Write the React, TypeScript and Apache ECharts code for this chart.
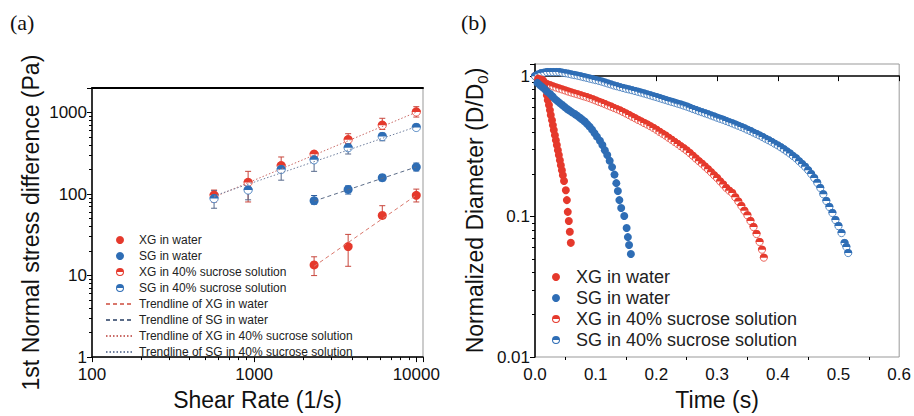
import React, { useEffect, useRef } from 'react';
import * as echarts from 'echarts';

// ---------- (a) first normal stress difference ----------
const shearRateAll = [566, 918, 1468, 2343, 3800, 6170, 10000];
const shearRateWater = [2343, 3800, 6170, 10000];
const xgWaterN1 = [13.5, 22.7, 54.7, 96.6];
const xgWaterErr = [[10, 17], [13, 32], [50, 72], [80, 115]];
const sgWaterN1 = [83, 114, 159, 214];
const sgWaterErr = [[75, 96], [100, 126], [145, 172], [192, 240]];
const xgSucroseN1 = [97, 139, 223, 308, 464, 700, 1018];
const xgSucroseErr = [[80, 112], [80, 190], [190, 285], [285, 330], [420, 550], [620, 850], [880, 1180]];
const sgSucroseN1 = [88, 112, 200, 263, 370, 508, 656];
const sgSucroseErr = [[67, 110], [85, 130], [148, 240], [190, 290], [310, 420], [450, 560], [620, 720]];
const trendXgWater = [[2343, 13], [10000, 97]];
const trendSgWater = [[2343, 82], [10000, 215]];
const trendXgSucrose = [[566, 92], [10000, 1010]];
const trendSgSucrose = [[566, 95], [10000, 670]];
const xTicksA = [100, 1000, 10000];
const yTicksA = [1, 10, 100, 1000];
const xMinorA = [200, 300, 400, 500, 600, 700, 800, 900, 2000, 3000, 4000, 5000, 6000, 7000, 8000, 9000];
const yMinorA = [2, 3, 4, 5, 6, 7, 8, 9, 20, 30, 40, 50, 60, 70, 80, 90, 200, 300, 400, 500, 600, 700, 800, 900];

// ---------- (b) normalized diameter vs time ----------
const xMinorB = [0.05, 0.15, 0.25, 0.35, 0.45, 0.55];
const yMinorB = [0.02, 0.03, 0.04, 0.05, 0.06, 0.07, 0.08, 0.09, 0.2, 0.3, 0.4, 0.5, 0.6, 0.7, 0.8, 0.9];
const xgWaterCurve = [
  [0.005, 0.96], [0.009, 0.95], [0.013, 0.937], [0.0155, 0.863], [0.018, 0.795], [0.0195, 0.732],
  [0.021, 0.675], [0.023, 0.622], [0.0246, 0.573], [0.026, 0.528], [0.028, 0.486], [0.0295, 0.448],
  [0.031, 0.413], [0.0328, 0.38], [0.0344, 0.35], [0.036, 0.323], [0.0377, 0.297], [0.0393, 0.274],
  [0.041, 0.252], [0.0426, 0.232], [0.0443, 0.214], [0.0459, 0.197], [0.0478, 0.179], [0.0508, 0.154],
  [0.0525, 0.131], [0.054, 0.108], [0.0557, 0.093], [0.0574, 0.078], [0.059, 0.065],
];
const sgWaterCurve = [
  [0.004, 0.895], [0.008, 0.863], [0.012, 0.835], [0.016, 0.808], [0.02, 0.776], [0.025, 0.745],
  [0.029, 0.715], [0.033, 0.686], [0.037, 0.664], [0.041, 0.642], [0.045, 0.622], [0.049, 0.602],
  [0.053, 0.584], [0.057, 0.568], [0.061, 0.552], [0.066, 0.536], [0.07, 0.521], [0.074, 0.506],
  [0.078, 0.49], [0.082, 0.475], [0.086, 0.455], [0.09, 0.437], [0.094, 0.416], [0.098, 0.393],
  [0.102, 0.371], [0.107, 0.347], [0.111, 0.323], [0.115, 0.297], [0.119, 0.274], [0.123, 0.25],
  [0.127, 0.225], [0.131, 0.199], [0.134, 0.173], [0.1365, 0.152], [0.139, 0.131], [0.142, 0.115],
  [0.147, 0.101], [0.151, 0.0828], [0.153, 0.0714], [0.155, 0.0627], [0.158, 0.0541],
];
const xgSucroseCurve = [
  [0, 1.0], [0.005, 0.968], [0.01, 0.932], [0.015, 0.9], [0.02, 0.877], [0.025, 0.86], [0.03, 0.845],
  [0.035, 0.829], [0.04, 0.816], [0.045, 0.803], [0.05, 0.79], [0.055, 0.776], [0.06, 0.764],
  [0.065, 0.753], [0.07, 0.742], [0.075, 0.731], [0.08, 0.719], [0.085, 0.709], [0.09, 0.697],
  [0.095, 0.684], [0.1, 0.671], [0.105, 0.657], [0.11, 0.645], [0.115, 0.632], [0.12, 0.619],
  [0.125, 0.607], [0.13, 0.594], [0.135, 0.582], [0.14, 0.57], [0.145, 0.556], [0.15, 0.542],
  [0.155, 0.528], [0.16, 0.514], [0.165, 0.501], [0.17, 0.488], [0.175, 0.476], [0.18, 0.463],
  [0.185, 0.452], [0.19, 0.44], [0.195, 0.428], [0.2, 0.415], [0.205, 0.401], [0.21, 0.389],
  [0.215, 0.377], [0.22, 0.364], [0.225, 0.352], [0.23, 0.34], [0.235, 0.329], [0.24, 0.317],
  [0.245, 0.306], [0.25, 0.295], [0.255, 0.283], [0.26, 0.271], [0.265, 0.259], [0.27, 0.248],
  [0.275, 0.238], [0.28, 0.227], [0.285, 0.217], [0.29, 0.207], [0.295, 0.197], [0.3, 0.188],
  [0.305, 0.178], [0.31, 0.169], [0.315, 0.16], [0.32, 0.153], [0.325, 0.147], [0.33, 0.137],
  [0.335, 0.128], [0.34, 0.119], [0.345, 0.11], [0.35, 0.102], [0.355, 0.0929], [0.36, 0.0842],
  [0.365, 0.0751], [0.37, 0.0659], [0.374, 0.0581], [0.377, 0.051],
];
const sgSucroseCurve = [
  [0, 1.0], [0.005, 1.025], [0.01, 1.05], [0.015, 1.059], [0.02, 1.068], [0.025, 1.068], [0.03, 1.068],
  [0.035, 1.068], [0.04, 1.068], [0.045, 1.059], [0.05, 1.05], [0.055, 1.04], [0.06, 1.028],
  [0.065, 1.018], [0.07, 1.008], [0.075, 0.997], [0.08, 0.984], [0.085, 0.972], [0.09, 0.96],
  [0.095, 0.949], [0.1, 0.937], [0.105, 0.926], [0.11, 0.914], [0.115, 0.9], [0.12, 0.886],
  [0.125, 0.873], [0.13, 0.858], [0.135, 0.847], [0.14, 0.835], [0.145, 0.824], [0.15, 0.813],
  [0.155, 0.804], [0.16, 0.794], [0.165, 0.783], [0.17, 0.773], [0.175, 0.763], [0.18, 0.752],
  [0.185, 0.741], [0.19, 0.73], [0.195, 0.719], [0.2, 0.709], [0.205, 0.698], [0.21, 0.687],
  [0.215, 0.677], [0.22, 0.666], [0.225, 0.656], [0.23, 0.647], [0.235, 0.637], [0.24, 0.628],
  [0.245, 0.617], [0.25, 0.607], [0.255, 0.596], [0.26, 0.584], [0.265, 0.574], [0.27, 0.563],
  [0.275, 0.554], [0.28, 0.544], [0.285, 0.535], [0.29, 0.525], [0.295, 0.516], [0.3, 0.506],
  [0.305, 0.497], [0.31, 0.489], [0.315, 0.479], [0.32, 0.47], [0.325, 0.461], [0.33, 0.452],
  [0.335, 0.443], [0.34, 0.434], [0.345, 0.425], [0.35, 0.415], [0.355, 0.406], [0.36, 0.396],
  [0.365, 0.387], [0.37, 0.378], [0.375, 0.368], [0.38, 0.358], [0.385, 0.349], [0.39, 0.34],
  [0.395, 0.33], [0.4, 0.321], [0.405, 0.311], [0.41, 0.301], [0.415, 0.291], [0.42, 0.281],
  [0.425, 0.27], [0.43, 0.26], [0.435, 0.248], [0.44, 0.237], [0.445, 0.226], [0.45, 0.214],
  [0.455, 0.201], [0.46, 0.188], [0.465, 0.174], [0.47, 0.16], [0.475, 0.144], [0.48, 0.129],
  [0.485, 0.117], [0.49, 0.106], [0.495, 0.0944], [0.5, 0.0855], [0.505, 0.0763], [0.51, 0.0648],
  [0.513, 0.0607], [0.516, 0.055],
];

const FONT = "'Liberation Sans', Arial, Helvetica, sans-serif";
const SERIF = "'Liberation Serif', 'DejaVu Serif', serif";
const RED = '#e5392c';
const BLUE = '#2e6db5';
const TXT = '#111';
const HALF_ICON =
  'path://M0,10A10,10 0 0,1 20,10Z M0,10A10,10 0 0,0 20,10L17.4,10A7.4,7.4 0 0,1 2.6,10Z';

const isPow10 = (v: number) => {
  const l = Math.log10(v);
  return Math.abs(l - Math.round(l)) < 1e-6;
};

function halfMarker(size: number) {
  return (_params: any, api: any) => {
    const p = api.coord([api.value(0), api.value(1)]);
    const r = size / 2;
    const color = api.visual('color');
    return {
      type: 'group',
      children: [
        { type: 'circle', shape: { cx: p[0], cy: p[1], r: r - 0.4 }, style: { fill: '#fff', stroke: color, lineWidth: 0.8 } },
        {
          type: 'sector',
          shape: { cx: p[0], cy: p[1], r0: 0, r, startAngle: Math.PI, endAngle: Math.PI * 2, clockwise: true },
          style: { fill: color },
        },
      ],
    };
  };
}

function errorBar(_params: any, api: any) {
  const x = api.value(0);
  const lo = api.coord([x, api.value(1)]);
  const hi = api.coord([x, api.value(2)]);
  const w = 3;
  const style = { stroke: api.visual('color'), lineWidth: 1 };
  return {
    type: 'group',
    children: [
      { type: 'line', shape: { x1: lo[0], y1: lo[1], x2: hi[0], y2: hi[1] }, style },
      { type: 'line', shape: { x1: lo[0] - w, y1: lo[1], x2: lo[0] + w, y2: lo[1] }, style },
      { type: 'line', shape: { x1: hi[0] - w, y1: hi[1], x2: hi[0] + w, y2: hi[1] }, style },
    ],
  };
}

const zip = (xs: number[], ys: number[]) => xs.map((x, i) => [x, ys[i]]);
const zipErr = (xs: number[], e: number[][]) => xs.map((x, i) => [x, e[i][0], e[i][1]]);

// decoration-only axis carrying minor ticks (log positions expressed as log10)
function minorAxis(gridIndex: number, min: number, max: number, values: number[], position: string) {
  return {
    type: 'value', gridIndex, min, max, position,
    axisLine: { show: false },
    axisLabel: { show: false },
    splitLine: { show: false },
    axisTick: { show: true, inside: false, length: 3, customValues: values, lineStyle: { color: '#000', width: 1 } },
  };
}

export default function App() {
  const ref = useRef<HTMLDivElement>(null);
  useEffect(() => {
    if (!ref.current) return;
    const chart = echarts.init(ref.current, undefined, { renderer: 'svg' });
    const axisLine = { show: true, lineStyle: { color: '#000', width: 1.5 } };
    const tick = { show: true, inside: false, length: 5, lineStyle: { color: '#000', width: 1 } };
    const nameStyle = { fontSize: 23, fontFamily: FONT, color: TXT };
    const labelStyle = { fontSize: 17, fontFamily: FONT, color: TXT };
    const hideDot = { opacity: 0, color: 'transparent', borderWidth: 0 };
    const option: any = {
      animation: false,
      backgroundColor: '#fff',
      textStyle: { fontFamily: FONT },
      graphic: [
        { type: 'text', left: 10, top: 11, style: { text: '(a)', fontSize: 22, fontFamily: SERIF, fill: TXT } },
        { type: 'text', left: 461, top: 11, style: { text: '(b)', fontSize: 22, fontFamily: SERIF, fill: TXT } },
      ],
      grid: [
        { left: 92, top: 88, width: 331, height: 276, show: true, borderColor: '#999', borderWidth: 1 },
        { left: 535, top: 64, width: 366, height: 293, show: true, borderColor: '#999', borderWidth: 1 },
      ],
      xAxis: [
        {
          type: 'log', gridIndex: 0, min: 100, max: 11000, logBase: 10, position: 'bottom',
          name: 'Shear Rate (1/s)', nameLocation: 'middle', nameGap: 29, nameTextStyle: nameStyle,
          axisLine, axisTick: tick,
          axisLabel: { ...labelStyle, margin: 9, formatter: (v: number) => (xTicksA.some((t) => Math.abs(t - v) < 1e-6) ? String(v) : '') },
          splitLine: { show: false },
        },
        {
          type: 'log', gridIndex: 0, min: 100, max: 11000, position: 'top',
          axisLine: { show: true, lineStyle: { color: '#000', width: 2 } },
          axisTick: { show: false }, axisLabel: { show: false }, splitLine: { show: false },
        },
        {
          type: 'value', gridIndex: 1, min: 0, max: 0.6, interval: 0.1, position: 'bottom',
          name: 'Time (s)', nameLocation: 'middle', nameGap: 31, nameTextStyle: nameStyle,
          axisLine, axisTick: tick,
          axisLabel: { ...labelStyle, margin: 9, formatter: (v: number) => v.toFixed(1) },
          splitLine: { show: false },
        },
        minorAxis(0, 2, Math.log10(11000), xMinorA.map((v) => Math.log10(v)), 'bottom'),
        minorAxis(1, 0, 0.6, xMinorB, 'bottom'),
      ],
      yAxis: [
        {
          type: 'log', gridIndex: 0, min: 1, max: 2000, logBase: 10, position: 'left',
          name: '1st Normal stress difference (Pa)', nameLocation: 'middle', nameGap: 50, nameTextStyle: nameStyle,
          axisLine, axisTick: tick,
          axisLabel: { ...labelStyle, margin: 5, formatter: (v: number) => (yTicksA.some((t) => Math.abs(t - v) < 1e-6) ? String(v) : '') },
          splitLine: { show: false },
        },
        {
          type: 'log', gridIndex: 1, min: 0.01, max: 1.22, logBase: 10, position: 'left',
          name: '{a|Normalized Diameter (D/D}{s|0}{a|)}', nameLocation: 'middle', nameGap: 45,
          nameTextStyle: {
            rich: {
              a: { fontSize: 23, fontFamily: FONT, color: TXT, lineHeight: 30 },
              s: { fontSize: 15, fontFamily: FONT, color: TXT, lineHeight: 14, verticalAlign: 'bottom' },
            },
          },
          axisLine, axisTick: tick,
          axisLabel: { ...labelStyle, margin: 5, formatter: (v: number) => (isPow10(v) ? String(+v.toPrecision(3)) : '') },
          splitLine: { show: false },
        },
        minorAxis(0, 0, Math.log10(2000), yMinorA.map((v) => Math.log10(v)), 'left'),
        minorAxis(1, -2, Math.log10(1.22), yMinorB.map((v) => Math.log10(v)), 'left'),
      ],
      legend: [
        {
          orient: 'vertical', left: 100, top: 229, itemWidth: 28, itemHeight: 8, itemGap: 4,
          selectedMode: false,
          textStyle: { fontSize: 12, fontFamily: FONT, color: '#222' },
          data: [
            { name: 'XG in water', icon: 'circle' },
            { name: 'SG in water', icon: 'circle' },
            { name: 'XG in 40% sucrose solution', icon: HALF_ICON },
            { name: 'SG in 40% sucrose solution', icon: HALF_ICON },
            { name: 'Trendline of XG in water', itemStyle: hideDot },
            { name: 'Trendline of SG in water', itemStyle: hideDot },
            { name: 'Trendline of XG in 40% sucrose solution', itemStyle: hideDot },
            { name: 'Trendline of SG in 40% sucrose solution', itemStyle: hideDot },
          ],
        },
        {
          orient: 'vertical', left: 547, top: 263, itemWidth: 30, itemHeight: 8, itemGap: 3,
          selectedMode: false,
          textStyle: { fontSize: 18, fontFamily: FONT, color: '#222' },
          data: [
            { name: 'XG in water', icon: 'circle' },
            { name: 'SG in water', icon: 'circle' },
            { name: 'XG in 40% sucrose solution', icon: HALF_ICON },
            { name: 'SG in 40% sucrose solution', icon: HALF_ICON },
          ],
        },
      ],
      series: [
        // trendlines (a)
        { name: 'Trendline of XG in water', type: 'line', xAxisIndex: 0, yAxisIndex: 0, symbol: 'none', data: trendXgWater, lineStyle: { color: '#d9776c', width: 1, type: [4, 3] }, itemStyle: { color: '#d9776c' } },
        { name: 'Trendline of SG in water', type: 'line', xAxisIndex: 0, yAxisIndex: 0, symbol: 'none', data: trendSgWater, lineStyle: { color: '#5b6c88', width: 1, type: [4, 3] }, itemStyle: { color: '#5b6c88' } },
        { name: 'Trendline of XG in 40% sucrose solution', type: 'line', xAxisIndex: 0, yAxisIndex: 0, symbol: 'none', data: trendXgSucrose, lineStyle: { color: '#c96a66', width: 1, type: [1.5, 2] }, itemStyle: { color: '#c96a66' } },
        { name: 'Trendline of SG in 40% sucrose solution', type: 'line', xAxisIndex: 0, yAxisIndex: 0, symbol: 'none', data: trendSgSucrose, lineStyle: { color: '#6f7f9e', width: 1, type: [1.5, 2] }, itemStyle: { color: '#6f7f9e' } },
        // error bars (a)
        { name: 'errXW', type: 'custom', xAxisIndex: 0, yAxisIndex: 0, renderItem: errorBar, data: zipErr(shearRateWater, xgWaterErr), encode: { x: 0, y: [1, 2] }, itemStyle: { color: '#c8463c' } },
        { name: 'errSW', type: 'custom', xAxisIndex: 0, yAxisIndex: 0, renderItem: errorBar, data: zipErr(shearRateWater, sgWaterErr), encode: { x: 0, y: [1, 2] }, itemStyle: { color: '#2f5f9e' } },
        { name: 'errXS', type: 'custom', xAxisIndex: 0, yAxisIndex: 0, renderItem: errorBar, data: zipErr(shearRateAll, xgSucroseErr), encode: { x: 0, y: [1, 2] }, itemStyle: { color: '#c8463c' } },
        { name: 'errSS', type: 'custom', xAxisIndex: 0, yAxisIndex: 0, renderItem: errorBar, data: zipErr(shearRateAll, sgSucroseErr), encode: { x: 0, y: [1, 2] }, itemStyle: { color: '#56698c' } },
        // points (a)
        { name: 'XG in water', type: 'scatter', xAxisIndex: 0, yAxisIndex: 0, symbol: 'circle', symbolSize: 9, data: zip(shearRateWater, xgWaterN1), itemStyle: { color: RED, opacity: 1 } },
        { name: 'SG in water', type: 'scatter', xAxisIndex: 0, yAxisIndex: 0, symbol: 'circle', symbolSize: 9, data: zip(shearRateWater, sgWaterN1), itemStyle: { color: BLUE, opacity: 1 } },
        { name: 'XG in 40% sucrose solution', type: 'custom', xAxisIndex: 0, yAxisIndex: 0, renderItem: halfMarker(9), data: zip(shearRateAll, xgSucroseN1), encode: { x: 0, y: 1 }, itemStyle: { color: RED } },
        { name: 'SG in 40% sucrose solution', type: 'custom', xAxisIndex: 0, yAxisIndex: 0, renderItem: halfMarker(9), data: zip(shearRateAll, sgSucroseN1), encode: { x: 0, y: 1 }, itemStyle: { color: BLUE } },
        // (b)
        { name: 'XG in water', type: 'scatter', xAxisIndex: 2, yAxisIndex: 1, symbol: 'circle', symbolSize: 8, data: xgWaterCurve, itemStyle: { color: RED, opacity: 1 } },
        { name: 'SG in water', type: 'scatter', xAxisIndex: 2, yAxisIndex: 1, symbol: 'circle', symbolSize: 8, data: sgWaterCurve, itemStyle: { color: BLUE, opacity: 1 } },
        { name: 'XG in 40% sucrose solution', type: 'custom', xAxisIndex: 2, yAxisIndex: 1, renderItem: halfMarker(8), data: xgSucroseCurve, encode: { x: 0, y: 1 }, itemStyle: { color: RED } },
        { name: 'SG in 40% sucrose solution', type: 'custom', xAxisIndex: 2, yAxisIndex: 1, renderItem: halfMarker(8), data: sgSucroseCurve, encode: { x: 0, y: 1 }, itemStyle: { color: BLUE } },
      ],
    };
    chart.setOption(option);
    return () => chart.dispose();
  }, []);
  return <div ref={ref} style={{ position: 'fixed', left: 0, top: 0, width: 914, height: 416, background: '#fff' }} />;
}
